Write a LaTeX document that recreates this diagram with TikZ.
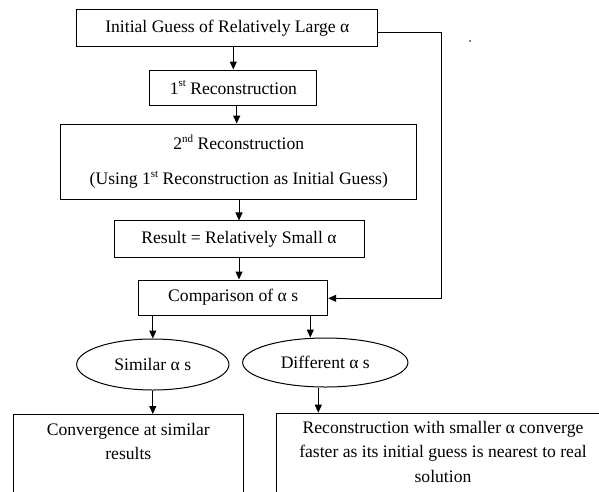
\documentclass[tikz,border=0pt]{standalone}
\usepackage{fontspec}
\setmainfont{Liberation Serif}
\usetikzlibrary{arrows.meta,shapes.geometric}
\newcommand\mysup[1]{\raisebox{0.42em}{\fontsize{11}{11}\selectfont #1}}
\begin{document}
\begin{tikzpicture}[x=1pt,y=-1pt,
  every node/.style={font=\fontsize{17.6}{24.3}\selectfont},
  box/.style={draw, line width=1pt, inner sep=0pt, align=center},
  ell/.style={draw, ellipse, line width=1pt, inner sep=0pt},
  txt/.style={inner sep=0pt, align=center},
  arr/.style={line width=1pt, -{Triangle[length=8pt,width=7pt]}}]
\useasboundingbox (0,0) rectangle (599,491);
\clip (0,0) rectangle (599,491);
\fill[white] (0,0) rectangle (599,491);

\node[box, minimum width=301.3pt, minimum height=36.7pt] (b1) at (227.3,27.7) {Initial Guess of Relatively Large α};
\node[box, minimum width=166.7pt, minimum height=35pt] (b2) at (233.3,87.5) {1\mysup{st} Reconstruction};
\node[box, minimum width=356.3pt, minimum height=75.3pt] (b3) at (238.8,161.7) {2\mysup{nd} Reconstruction\\[10.7pt](Using 1\mysup{st} Reconstruction as Initial Guess)};
\node[box, minimum width=250pt, minimum height=36.7pt] (b4) at (239,239.3) {Result = Relatively Small α};
\node[box, minimum width=189pt, minimum height=35pt] (b5) at (233.2,297.5) {Comparison of α s};
\node[ell, minimum width=152.3pt, minimum height=51pt] (e1) at (152.8,364.5) {Similar α s};
\node[ell, minimum width=165.3pt, minimum height=49pt] (e2) at (325.3,362.5) {Different α s};
\node[box, minimum width=230pt, minimum height=120pt, anchor=north west] (b6) at (13.3,414) {};
\node[txt, anchor=north] (t6) at (128.3,423) {Convergence at similar\\results};
\node[box, minimum width=322.5pt, minimum height=120pt, anchor=north west] (b7) at (276,412.7) {};
\node[txt, anchor=north] (t7) at (443,421) {Reconstruction with smaller α converge\\faster as its initial guess is nearest to real\\solution};

\fill (470,41) circle (0.8pt);

\draw[arr] (b1.south -| b2.north) -- (b2.north);
\draw[arr] ([xshift=3.4pt]b2.south) -- ([xshift=3.4pt]b2.south |- b3.north);
\draw[arr] (b3.south -| b4.north) -- (b4.north);
\draw[arr] (b4.south) -- (b4.south |- b5.north);
\draw[arr] (b5.south -| e1.north) -- (e1.north);
\draw[arr] ([xshift=-15pt]b5.south -| e2.north) -- ([xshift=-15pt]e2.north);
\draw[arr] (e1.south) -- (e1.south |- b6.north);
\draw[arr] ([xshift=-7pt]e2.south) -- ([xshift=-7pt]e2.south |- b7.north);
\coordinate (fbt) at (441,32.3);
\coordinate (fbb) at (441,298.3);
\draw[arr] (b1.east |- fbt) -- (fbt) -- (fbb) -- (b5.east |- fbb);
\end{tikzpicture}
\end{document}
